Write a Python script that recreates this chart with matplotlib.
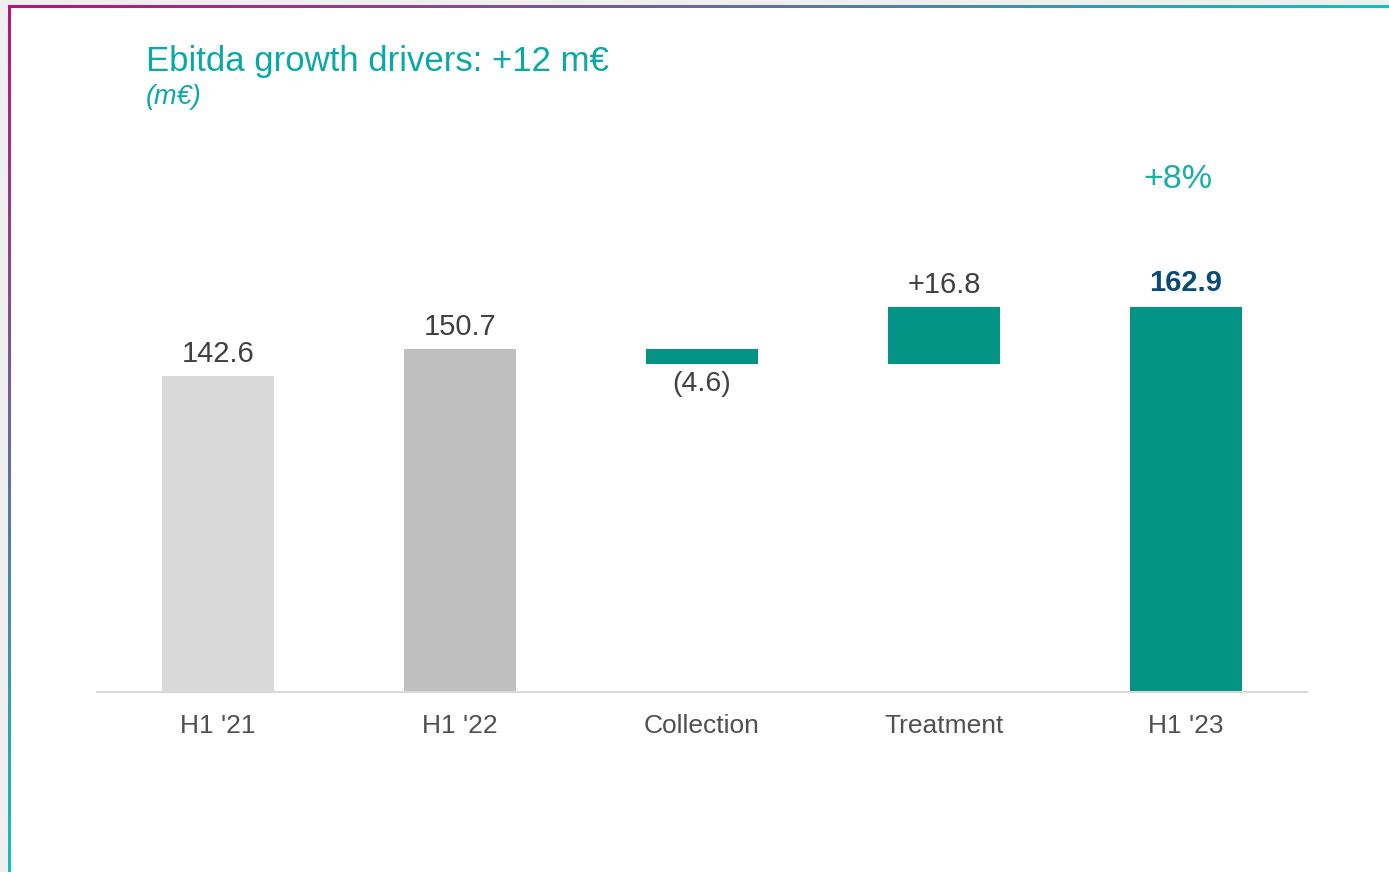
import numpy as np
import matplotlib
matplotlib.use("Agg")
import matplotlib.pyplot as plt

plt.rcParams['font.family'] = ['Liberation Sans', 'DejaVu Sans']

# waterfall data (m€)
categories = ["H1 '21", "H1 '22", "Collection", "Treatment", "H1 '23"]
values = [142.6, 150.7, -4.6, 16.8, 162.9]
is_total = [True, True, False, False, True]
value_labels = ["142.6", "150.7", "(4.6)", "+16.8", "162.9"]
growth_label = "+8%"

TEAL = '#039385'
TITLE = '#0aa8a6'
bar_colors = ['#d9d9d9', '#bfbfbf', TEAL, TEAL, TEAL]

W, H = 1389, 872
fig = plt.figure(figsize=(W / 100, H / 100), dpi=100)

# slide frame: grey margin plus a magenta -> teal gradient rule on top and left
c0 = np.array([192, 16, 122]) / 255
c1 = np.array([16, 194, 192]) / 255
img = np.ones((H, W, 3))
img[:5, :] = 0.94
img[:, :8] = 0.94
tx = np.linspace(0, 1, W - 8)[:, None]
img[5:8, 8:] = (c0 + (c1 - c0) * tx)[None, :, :]
ty = np.linspace(0, 1, H - 5)[:, None]
img[5:, 8:11] = (c0 + (c1 - c0) * ty)[:, None, :]
fig.figimage(img, 0, 0, origin='upper', zorder=-5)

ax = fig.add_axes([97 / W, (H - 692) / H, (1307 - 97) / W, (692 - 150) / H])
ax.set_zorder(2)
ax.patch.set_alpha(0)

# bottoms/heights for the waterfall
bottoms, heights = [], []
running = 0
for v, tot in zip(values, is_total):
    if tot:
        bottoms.append(0)
        heights.append(v)
        running = v
    else:
        bottoms.append(running if v > 0 else running + v)
        heights.append(abs(v))
        running += v

x = np.arange(len(categories))
ax.bar(x, heights, bottom=bottoms, width=0.46, color=bar_colors, zorder=2)

for i, (b, h, v, lab) in enumerate(zip(bottoms, heights, values, value_labels)):
    if v < 0:
        ax.annotate(lab, (i, b), xytext=(0, -7), textcoords='offset pixels',
                    ha='center', va='top', fontsize=20.5, color='#404040')
    elif i == len(categories) - 1:
        ax.annotate(lab, (i, b + h), xytext=(0, 10), textcoords='offset pixels',
                    ha='center', va='bottom', fontsize=21, fontweight='bold',
                    color='#0b4a75')
    else:
        ax.annotate(lab, (i, b + h), xytext=(0, 8), textcoords='offset pixels',
                    ha='center', va='bottom', fontsize=21, color='#404040')

ax.annotate(growth_label, (x[-1], values[-1]), xytext=(-8, 112),
            textcoords='offset pixels', ha='center', va='bottom',
            fontsize=24.5, color='#1aaea6')

ax.set_xlim(-0.5, 4.5)
ax.set_ylim(49.7, 209.1)
ax.set_xticks(x)
ax.set_xticklabels(categories, fontsize=19, color='#505050')
ax.tick_params(axis='x', length=0, pad=16)
ax.set_yticks([])
for s in ['top', 'right', 'left']:
    ax.spines[s].set_visible(False)
ax.spines['bottom'].set_color('#d9d9d9')
ax.spines['bottom'].set_linewidth(1.5)
ax.spines['bottom'].set_zorder(3)

fig.text(146 / W, 1 - 61 / H, "Ebitda growth drivers: +12 m€", fontsize=25,
         color=TITLE, ha='left', va='center')
fig.text(146 / W, 1 - 97 / H, "(m€)", fontsize=19.5, style='italic',
         color=TITLE, ha='left', va='center')

fig.savefig('out.png', dpi=100)
